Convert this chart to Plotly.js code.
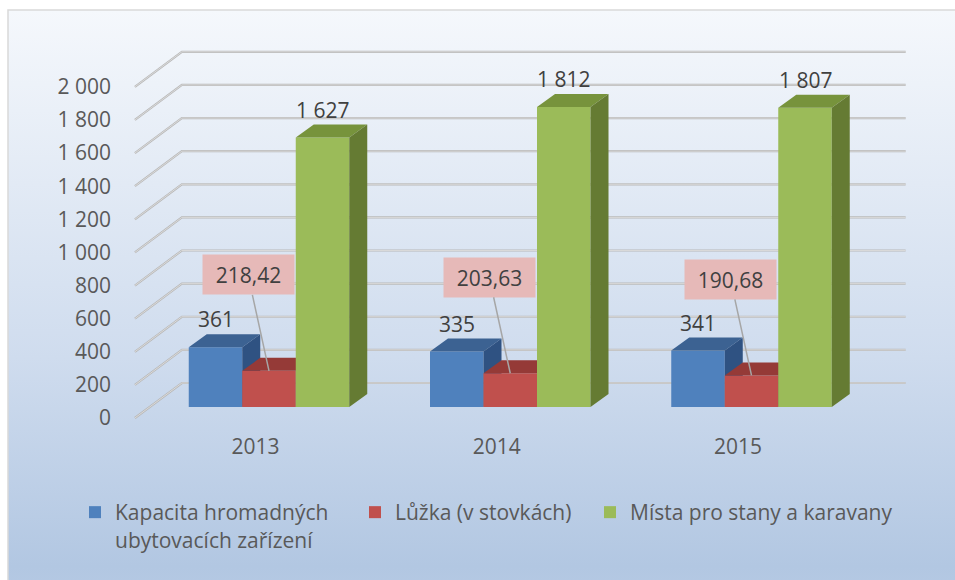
<!DOCTYPE html>
<html><head><meta charset="utf-8">
<script src="https://cdn.plot.ly/plotly-3.0.1.min.js"></script>
<style>html,body{margin:0;padding:0;background:#fff}#chart{width:955px;height:580px}</style>
</head><body><div id="chart"></div>
<script>
// ---- data ----
const categories = ['2013', '2014', '2015'];
const seriesNames = ['Kapacita hromadných<br>ubytovacích zařízení', 'Lůžka (v stovkách)', 'Místa pro stany a karavany'];
const kapacita = [361, 335, 341];
const luzka = [218.42, 203.63, 190.68];
const mista = [1627, 1812, 1807];
const yTicks = [0, 200, 400, 600, 800, 1000, 1200, 1400, 1600, 1800, 2000];

// ---- styling / geometry (pixels) ----
const W = 955, H = 580;
const catPx = 241.25, unitPx = 0.1656;
const front0X = 255.5, front0Y = 418;     // floor front plane
const bar0X = 269, bar0Y = 407;           // bar front plane
const wallDepth = [47, -35];              // front -> back wall
const barDepth = [18, -13];               // bar thickness
const bw = 53.5 / catPx;
const faceCols = [
  {front: '#4f81bd', top: '#3c6292', side: '#2f5282'},
  {front: '#c0504d', top: '#953a37', side: '#7f2f2d'},
  {front: '#9bbb59', top: '#77933c', side: '#657b33'}
];
const series = [kapacita, luzka, mista];
const decimals = [0, 2, 0];

function fmtNum(v, dec) {
  const s = v.toFixed(dec);
  let [i, d] = s.split('.');
  i = i.replace(/\B(?=(\d{3})+(?!\d))/g, ' ');
  return d ? i + ',' + d : i;
}

const xRange = [-front0X / catPx, (W - front0X) / catPx];
const yRange = [-(H - front0Y) / unitPx, front0Y / unitPx];
const x2Range = [-bar0X / catPx, (W - bar0X) / catPx];
const ybRange = [-(H - bar0Y) / unitPx, bar0Y / unitPx];

const traces = [];
// back wall gridlines + side diagonals
const dX = wallDepth[0] / catPx, dY = -wallDepth[1] / unitPx;
const gx = [], gy = [];
yTicks.forEach(v => {
  gx.push(-0.5, -0.5 + dX, categories.length - 0.5 + dX, null);
  gy.push(v, v + dY, v + dY, null);
});
traces.push({type: 'scatter', mode: 'lines', x: gx, y: gy, xaxis: 'x', yaxis: 'y',
  line: {color: '#b8b8b8', width: 2.2}, hoverinfo: 'skip', showlegend: false});
traces.push({type: 'scatter', mode: 'lines', x: gx, y: gy, xaxis: 'x', yaxis: 'y',
  line: {color: '#e2e2e2', width: 0.8}, hoverinfo: 'skip', showlegend: false});

const bdx = barDepth[0] / catPx, bdy = -barDepth[1] / unitPx;
const annotations = [];
series.forEach((vals, s) => {
  const ya = 'y' + (s + 2);
  const off = -1.5 * bw + s * bw;
  traces.push({type: 'bar', x: categories.map((c, i) => i), y: vals, width: bw, offset: off,
    xaxis: 'x2', yaxis: ya, name: seriesNames[s], legend: s === 0 ? 'legend' : 'legend' + (s + 1),
    marker: {color: faceCols[s].front, line: {width: 0}}, hoverinfo: 'y'});
  const tx = [], ty = [], sx = [], sy = [];
  vals.forEach((v, i) => {
    const l = i + off, r = i + off + bw;
    tx.push(l, r, r + bdx, l + bdx, l, null);
    ty.push(v, v, v + bdy, v + bdy, v, null);
    sx.push(r, r + bdx, r + bdx, r, r, null);
    sy.push(0, bdy, v + bdy, v, 0, null);
  });
  traces.push({type: 'scatter', mode: 'lines', x: tx, y: ty, xaxis: 'x2', yaxis: ya, fill: 'toself',
    fillcolor: faceCols[s].top, line: {width: 0}, hoverinfo: 'skip', showlegend: false});
  traces.push({type: 'scatter', mode: 'lines', x: sx, y: sy, xaxis: 'x2', yaxis: ya, fill: 'toself',
    fillcolor: faceCols[s].side, line: {width: 0}, hoverinfo: 'skip', showlegend: false});
  vals.forEach((v, i) => {
    const cx = i + off + bw / 2;
    if (s === 1) {
      annotations.push({xref: 'x2', yref: ya, x: cx, y: v, text: fmtNum(v, decimals[s]),
        showarrow: true, arrowhead: 0, arrowwidth: 1.5, arrowcolor: '#a6a6a6', ax: -21, ay: -96,
        bgcolor: '#e6b9b8', width: 89, height: 37, font: {size: 21, color: '#404040'}, standoff: 0});
    } else {
      annotations.push({xref: 'x2', yref: ya, x: cx, y: v, text: fmtNum(v, decimals[s]),
        showarrow: false, yshift: 28, font: {size: 21, color: '#404040'}});
    }
  });
});

const gradSvg = '<svg xmlns="http://www.w3.org/2000/svg" width="100" height="100" preserveAspectRatio="none">' +
  '<defs><linearGradient id="g" x1="0" y1="0" x2="0" y2="1">' +
  '<stop offset="0" stop-color="#f5f8fc"/><stop offset="0.5" stop-color="#cfdcee"/>' +
  '<stop offset="0.8" stop-color="#b2c7e2"/><stop offset="1" stop-color="#c4d4ea"/></linearGradient></defs>' +
  '<rect x="0" y="0" width="100" height="100" fill="url(#g)"/></svg>';
const gradUri = 'data:image/svg+xml;charset=utf-8,' + encodeURIComponent(gradSvg);

const axHidden = {visible: false, showgrid: false, zeroline: false, fixedrange: true};
const legendBase = {orientation: 'v', bgcolor: 'rgba(0,0,0,0)', borderwidth: 0, xanchor: 'left', yanchor: 'top',
  valign: 'top', font: {family: 'Open Sans', size: 21, color: '#595959'}, itemclick: false, itemdoubleclick: false};

const layout = {
  width: W, height: H,
  margin: {l: 0, r: 0, t: 0, b: 0},
  paper_bgcolor: '#ffffff', plot_bgcolor: 'rgba(0,0,0,0)',
  font: {family: 'Open Sans', size: 21, color: '#595959'},
  separators: ', ',
  showlegend: true,
  xaxis: {range: xRange, domain: [0, 1], tickmode: 'array', tickvals: categories.map((c, i) => i), ticktext: categories,
    anchor: 'free', position: (H - 432) / H, showgrid: false, zeroline: false, showline: false, ticks: '',
    tickfont: {size: 21, color: '#595959'}, fixedrange: true},
  yaxis: {range: yRange, domain: [0, 1], tickmode: 'array', tickvals: yTicks, separatethousands: true,
    anchor: 'free', position: 111 / W, showgrid: false, zeroline: false, showline: false, ticks: '',
    tickfont: {size: 21, color: '#595959'}, fixedrange: true},
  xaxis2: Object.assign({overlaying: 'x', range: x2Range}, axHidden),
  yaxis2: Object.assign({overlaying: 'y', range: ybRange}, axHidden),
  yaxis3: Object.assign({overlaying: 'y', range: ybRange}, axHidden),
  yaxis4: Object.assign({overlaying: 'y', range: ybRange}, axHidden),
  legend: Object.assign({x: 75 / W, y: (H - 492) / H}, legendBase),
  legend2: Object.assign({x: 355 / W, y: (H - 492) / H}, legendBase),
  legend3: Object.assign({x: 590 / W, y: (H - 492) / H}, legendBase),
  annotations: annotations,
  images: [{source: gradUri, xref: 'paper', yref: 'paper', x: 8 / W, y: 1 - 10 / H,
    sizex: 1.2, sizey: 1.2, sizing: 'stretch', xanchor: 'left', yanchor: 'top', layer: 'below'}],
  shapes: [{type: 'rect', xref: 'paper', yref: 'paper', x0: 8 / W, x1: 1.2, y0: -0.2, y1: 1 - 10 / H,
    line: {color: '#d9d9d9', width: 1.5}, fillcolor: 'rgba(0,0,0,0)', layer: 'below'}]
};

Plotly.newPlot('chart', traces, layout, {displayModeBar: false, staticPlot: true});
</script>
</body></html>
